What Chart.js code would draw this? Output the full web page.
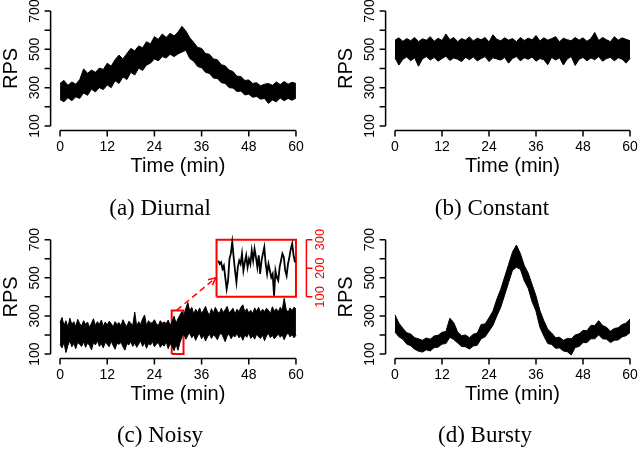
<!DOCTYPE html>
<html>
<head>
<meta charset="utf-8">
<script src="https://cdn.jsdelivr.net/npm/chart.js@4.4.1/dist/chart.umd.min.js"></script>
<style>
  body { margin: 0; background: #fff; }
  #wrap { position: relative; width: 640px; height: 450px; overflow: hidden; }
  canvas { position: absolute; left: 0; top: 0; }
</style>
</head>
<body>
<div id="wrap">
  <canvas id="pa" width="640" height="450"></canvas>
  <canvas id="pb" width="640" height="450"></canvas>
  <canvas id="pc" width="640" height="450"></canvas>
  <canvas id="pd" width="640" height="450"></canvas>
</div>
<script>
// time axes (minutes) and tick labels
const minutes = Array.from({ length: 61 }, (_, i) => i);
const halfMinutes = Array.from({ length: 121 }, (_, i) => i / 2);
const xTicks = [0, 12, 24, 36, 48, 60];
const yTicks = [100, 200, 300, 400, 500, 600, 700];
const yLabels = [100, 300, 500, 700];
const insetTicks = [100, 200, 300];

// each trace is a dense noisy line, kept here as its lower / upper envelope
const diurnalLo = [238,226,248,232,252,244,272,260,292,278,300,290,314,300,336,322,356,342,380,366,402,390,418,428,450,440,462,455,474,462,476,486,495,452,438,410,404,380,374,350,348,326,322,300,298,280,282,262,266,250,254,240,244,218,236,226,246,232,244,234,246];
const diurnalHi = [322,338,312,330,318,342,398,375,392,380,402,395,428,412,446,470,450,478,505,492,518,508,540,528,566,552,580,562,584,570,590,620,596,560,536,510,505,478,474,450,446,420,414,392,384,360,358,338,340,322,326,310,318,322,312,330,316,332,318,328,322];

const constantLo = [455,418,448,460,440,456,412,450,462,444,458,438,452,464,442,455,448,436,458,446,460,440,452,462,436,456,450,444,458,428,452,462,440,456,448,460,438,452,446,420,458,444,456,418,450,462,416,448,458,440,455,446,462,438,452,458,440,456,448,428,452];
const constantHi = [548,560,542,556,545,562,540,555,548,566,542,558,546,580,550,562,540,556,548,565,544,558,550,562,538,576,552,545,560,548,556,540,562,546,558,550,572,544,560,548,556,566,540,558,550,545,562,548,560,542,556,588,546,562,550,540,566,548,560,552,545];

// noisy trace every half minute
const noisyLo = [150,132,160,108,145,170,138,155,128,162,150,140,165,135,158,145,122,160,148,170,140,155,132,162,150,138,168,145,125,158,150,162,138,120,155,148,165,140,158,135,152,168,140,160,130,155,147,166,138,152,160,135,150,142,165,128,155,140,118,150,120,160,190,205,178,198,210,185,200,172,195,208,180,198,168,190,205,182,200,192,175,198,210,188,165,195,205,180,198,190,208,185,196,172,200,188,210,182,195,178,205,190,182,200,170,195,208,186,198,180,192,205,188,200,175,198,210,190,202,185,198];
const noisyHi = [265,292,250,275,240,288,255,270,245,282,260,248,275,255,268,240,262,285,250,270,255,278,245,268,252,272,260,242,270,255,265,248,280,258,245,272,262,250,320,245,270,255,285,305,248,275,262,265,280,258,250,275,262,268,260,278,250,270,298,262,285,305,322,300,340,370,325,345,310,335,318,342,312,330,350,320,305,338,315,345,325,312,340,318,332,350,315,328,340,310,335,322,345,358,320,338,315,330,312,342,325,345,318,335,322,340,330,312,348,325,338,320,345,330,392,335,318,342,328,345,338];

const burstyLo = [215,190,178,152,144,125,115,110,122,116,134,136,152,155,188,176,158,140,138,126,142,146,180,190,220,250,300,345,410,475,540,555,545,485,445,375,325,240,195,155,150,130,132,116,112,95,134,140,160,160,180,180,200,180,178,160,172,174,190,196,212];
const burstyHi = [305,262,235,212,205,186,180,172,184,178,195,198,214,218,288,265,215,196,200,186,204,210,255,258,290,325,388,440,505,570,635,672,628,565,525,465,405,328,275,230,210,186,188,172,182,180,200,206,224,222,250,250,275,250,240,220,234,238,255,262,284];

// zoomed-in piece of the noisy trace (inset, right axis 100-300)
const insetRps = [227,215,221,198,209,168,127,157,233,251,292,239,192,151,204,227,215,251,192,221,245,204,233,215,262,227,268,239,204,245,180,227,251,274,215,180,215,192,168,180,104,192,168,157,204,227,251,239,192,174,215,239,268,286,245,221];
const zoomWindow = [28.4, 31.4, 100, 328];   // t0, t1, rps0, rps1
const insetBox = [39.8, 60, 400, 700];
const arrowFrom = [29.7, 330];
const arrowTo = [39.6, 500];

const X_MIN = -2.4, X_MAX = 62.4, Y_MIN = 76, Y_MAX = 724;

function band(xs, lo, hi) {
  return [
    { data: lo.map((v, i) => ({ x: xs[i], y: v })), borderColor: '#000', borderWidth: 1, pointRadius: 0, fill: false },
    { data: hi.map((v, i) => ({ x: xs[i], y: v })), borderColor: '#000', borderWidth: 1, pointRadius: 0, fill: '-1', backgroundColor: '#000' }
  ];
}

function boxData(b) {
  return [{ x: b[0], y: b[2] }, { x: b[1], y: b[2] }, { x: b[1], y: b[3] }, { x: b[0], y: b[3] }, { x: b[0], y: b[2] }];
}

const rAxes = {
  id: 'rAxes',
  afterDraw(chart) {
    const o = chart.config.options.rStyle;
    const ctx = chart.ctx, x = chart.scales.x, y = chart.scales.y, a = chart.chartArea;
    const ax = a.left, ay = a.bottom;
    ctx.save();
    ctx.strokeStyle = '#000';
    ctx.fillStyle = '#000';
    ctx.lineWidth = 1.5;
    ctx.beginPath();
    ctx.moveTo(ax, y.getPixelForValue(yTicks[0]));
    ctx.lineTo(ax, y.getPixelForValue(yTicks[yTicks.length - 1]));
    yTicks.forEach(v => { const p = y.getPixelForValue(v); ctx.moveTo(ax, p); ctx.lineTo(ax - 6, p); });
    ctx.moveTo(x.getPixelForValue(xTicks[0]), ay);
    ctx.lineTo(x.getPixelForValue(xTicks[xTicks.length - 1]), ay);
    xTicks.forEach(v => { const p = x.getPixelForValue(v); ctx.moveTo(p, ay); ctx.lineTo(p, ay + 6); });
    ctx.stroke();

    ctx.font = '14px "Liberation Sans", Arial, sans-serif';
    ctx.textAlign = 'center';
    ctx.textBaseline = 'alphabetic';
    xTicks.forEach(v => ctx.fillText(String(v), x.getPixelForValue(v), ay + 20));
    yLabels.forEach(v => {
      ctx.save();
      ctx.translate(ax - 12, y.getPixelForValue(v));
      ctx.rotate(-Math.PI / 2);
      ctx.fillText(String(v), 0, 0);
      ctx.restore();
    });

    ctx.font = '20px "Liberation Sans", Arial, sans-serif';
    ctx.fillText('Time (min)', (a.left + a.right) / 2, ay + 41);
    ctx.save();
    ctx.translate(ax - 34, (a.top + a.bottom) / 2);
    ctx.rotate(-Math.PI / 2);
    ctx.fillText('RPS', 0, 0);
    ctx.restore();

    ctx.font = '23px "Liberation Serif", "Times New Roman", serif';
    ctx.fillText(o.caption, o.capX, o.capY);

    if (o.inset) {
      const y2 = chart.scales.y2;
      const rx = a.right + 1;
      ctx.strokeStyle = 'red';
      ctx.fillStyle = 'red';
      ctx.lineWidth = 1.5;
      ctx.beginPath();
      ctx.moveTo(rx, y2.getPixelForValue(insetTicks[0]));
      ctx.lineTo(rx, y2.getPixelForValue(insetTicks[insetTicks.length - 1]));
      insetTicks.forEach(v => { const p = y2.getPixelForValue(v); ctx.moveTo(rx, p); ctx.lineTo(rx + 6, p); });
      ctx.stroke();
      ctx.font = '13px "Liberation Sans", Arial, sans-serif';
      insetTicks.forEach(v => {
        ctx.save();
        ctx.translate(rx + 18, y2.getPixelForValue(v));
        ctx.rotate(-Math.PI / 2);
        ctx.fillText(String(v), 0, 0);
        ctx.restore();
      });
      // dashed arrow from the zoom window to the inset
      const x0 = x.getPixelForValue(arrowFrom[0]), y0 = y.getPixelForValue(arrowFrom[1]);
      const x1 = x.getPixelForValue(arrowTo[0]), y1 = y.getPixelForValue(arrowTo[1]);
      ctx.setLineDash([6, 4]);
      ctx.beginPath();
      ctx.moveTo(x0, y0);
      ctx.lineTo(x1, y1);
      ctx.stroke();
      ctx.setLineDash([]);
      const ang = Math.atan2(y1 - y0, x1 - x0);
      ctx.beginPath();
      ctx.moveTo(x1 - 8 * Math.cos(ang - 0.45), y1 - 8 * Math.sin(ang - 0.45));
      ctx.lineTo(x1, y1);
      ctx.lineTo(x1 - 8 * Math.cos(ang + 0.45), y1 - 8 * Math.sin(ang + 0.45));
      ctx.stroke();
    }
    ctx.restore();
  }
};

function makePanel(id, pad, xs, lo, hi, caption, capX, capY, inset) {
  const datasets = band(xs, lo, hi);
  const scales = {
    x: { type: 'linear', min: X_MIN, max: X_MAX, display: false },
    y: { type: 'linear', min: Y_MIN, max: Y_MAX, display: false }
  };
  if (inset) {
    const n = insetRps.length;
    const b0 = insetBox[0] + 0.45, b1 = insetBox[1] - 0.25;
    const k = (b1 - b0) / (n - 1);
    const ky = (insetBox[3] - insetBox[2]) / (insetTicks[2] - insetTicks[0]);
    scales.x2 = { type: 'linear', display: false, min: -(b0 - X_MIN) / k, max: (n - 1) + (X_MAX - b1) / k };
    scales.y2 = { type: 'linear', display: false,
      min: insetTicks[0] - (insetBox[2] - Y_MIN) / ky,
      max: insetTicks[2] + (Y_MAX - insetBox[3]) / ky };
    datasets.push({ data: insetRps.map((v, i) => ({ x: i, y: v })), xAxisID: 'x2', yAxisID: 'y2',
      borderColor: '#000', borderWidth: 1.8, pointRadius: 0, fill: false });
    datasets.push({ data: boxData(zoomWindow), borderColor: 'red', borderWidth: 2, pointRadius: 0, fill: false });
    datasets.push({ data: boxData(insetBox), borderColor: 'red', borderWidth: 2, pointRadius: 0, fill: false });
  }
  return new Chart(document.getElementById(id), {
    type: 'line',
    data: { datasets },
    options: {
      responsive: false,
      animation: false,
      events: [],
      layout: { padding: pad },
      scales,
      elements: { line: { tension: 0 } },
      plugins: { legend: { display: false }, tooltip: { enabled: false } },
      rStyle: { caption, capX, capY, inset }
    },
    plugins: [rAxes]
  });
}

makePanel('pa', { left: 50.6, right: 334.6, top: 6.4, bottom: 319.4 }, minutes, diurnalLo, diurnalHi, '(a) Diurnal', 160, 215, false);
makePanel('pb', { left: 385.6, right: 0.6, top: 6.4, bottom: 319.4 }, minutes, constantLo, constantHi, '(b) Constant', 492, 215, false);
makePanel('pc', { left: 50.6, right: 334.6, top: 235.1, bottom: 91.4 }, halfMinutes, noisyLo, noisyHi, '(c) Noisy', 160, 442, true);
makePanel('pd', { left: 385.6, right: 0.6, top: 235.1, bottom: 91.4 }, minutes, burstyLo, burstyHi, '(d) Bursty', 485, 442, false);
</script>
</body>
</html>
